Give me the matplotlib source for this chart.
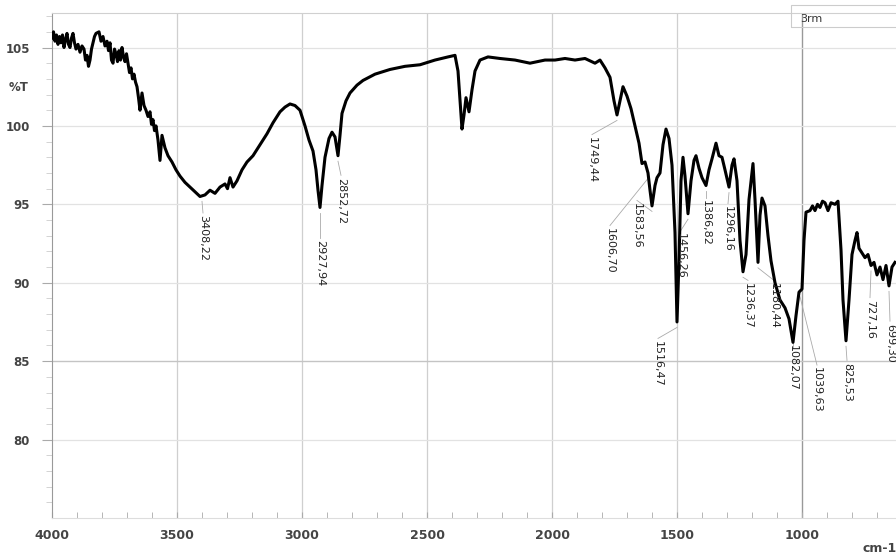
import numpy as np
import matplotlib
matplotlib.use('Agg')
import matplotlib.pyplot as plt
from matplotlib.patches import Rectangle

# spectrum (wavenumber cm-1, %T)
wavenumber = [4000, 3994, 3988, 3982, 3976, 3970, 3964, 3958, 3952, 3946,
              3940, 3934, 3928, 3922, 3916, 3910, 3904, 3896, 3888, 3880,
              3872, 3866, 3860, 3854, 3848, 3842, 3836, 3830, 3824, 3812,
              3804, 3796, 3788, 3780, 3774, 3768, 3762, 3756, 3750, 3744,
              3738, 3732, 3726, 3720, 3714, 3708, 3702, 3696, 3690, 3684,
              3678, 3672, 3666, 3660, 3654, 3648, 3640, 3632, 3624, 3616,
              3608, 3602, 3596, 3590, 3584, 3576, 3568, 3560, 3548, 3536,
              3520, 3504, 3488, 3468, 3448, 3428, 3408, 3388, 3368, 3348,
              3328, 3308, 3298, 3288, 3276, 3260, 3240, 3220, 3196, 3168,
              3140, 3116, 3088, 3068, 3048, 3028, 3008, 2988, 2972, 2956,
              2944, 2936, 2928, 2920, 2908, 2892, 2880, 2868, 2856, 2848,
              2840, 2824, 2808, 2780, 2756, 2708, 2648, 2588, 2528, 2468,
              2416, 2388, 2376, 2368, 2360, 2352, 2344, 2332, 2320, 2308,
              2288, 2256, 2208, 2148, 2088, 2028, 1988, 1948, 1908, 1868,
              1828, 1808, 1788, 1768, 1752, 1740, 1728, 1716, 1700, 1684,
              1668, 1652, 1640, 1628, 1616, 1608, 1600, 1588, 1580, 1568,
              1556, 1544, 1532, 1520, 1508, 1500, 1492, 1484, 1476, 1468,
              1456, 1444, 1432, 1424, 1412, 1400, 1384, 1372, 1360, 1344,
              1332, 1320, 1308, 1292, 1280, 1272, 1260, 1248, 1236, 1224,
              1212, 1196, 1188, 1176, 1168, 1160, 1148, 1136, 1124, 1108,
              1088, 1068, 1052, 1036, 1024, 1012, 1000, 992, 984, 968,
              958, 948, 938, 928, 918, 908, 896, 884, 868, 856,
              844, 836, 824, 812, 800, 788, 780, 772, 760, 748,
              736, 724, 712, 700, 688, 676, 664, 652, 640, 628]
transmittance = [105.6, 106.0, 105.4, 105.8, 105.2, 105.7, 105.3, 105.8, 105.0, 105.5,
                 105.9, 105.2, 105.0, 105.6, 105.9, 105.3, 104.9, 105.2, 104.7, 105.1,
                 104.9, 104.2, 104.5, 103.8, 104.2, 104.9, 105.3, 105.7, 105.9, 106.0,
                 105.4, 105.7, 105.1, 105.4, 104.8, 105.3, 104.2, 104.0, 104.9, 104.6,
                 104.1, 104.8, 104.2, 105.0, 104.4, 104.1, 104.6, 104.0, 103.4, 103.7,
                 103.0, 103.3, 102.8, 102.5, 101.8, 101.0, 102.1, 101.3, 101.0, 100.6,
                 100.9, 100.1, 100.4, 99.7, 100.0, 99.1, 97.8, 99.4, 98.6, 98.1,
                 97.7, 97.2, 96.8, 96.4, 96.1, 95.8, 95.5, 95.6, 95.9, 95.7,
                 96.1, 96.3, 96.0, 96.7, 96.1, 96.5, 97.2, 97.7, 98.1, 98.8,
                 99.5, 100.2, 100.9, 101.2, 101.4, 101.3, 101.0, 100.0, 99.1, 98.4,
                 97.2, 95.9, 94.8, 96.2, 98.0, 99.2, 99.6, 99.3, 98.1, 99.4,
                 100.8, 101.6, 102.1, 102.6, 102.9, 103.3, 103.6, 103.8, 103.9, 104.2,
                 104.4, 104.5, 103.5, 101.6, 99.8, 100.7, 101.8, 100.9, 102.3, 103.5,
                 104.2, 104.4, 104.3, 104.2, 104.0, 104.2, 104.2, 104.3, 104.2, 104.3,
                 104.0, 104.2, 103.7, 103.1, 101.6, 100.7, 101.6, 102.5, 101.9, 101.1,
                 100.0, 98.9, 97.6, 97.7, 97.0, 95.9, 94.9, 96.2, 96.7, 97.0,
                 98.8, 99.8, 99.2, 97.5, 93.2, 87.5, 91.4, 96.5, 98.0, 96.8,
                 94.4, 96.5, 97.8, 98.1, 97.3, 96.7, 96.2, 97.2, 97.9, 98.9,
                 98.1, 98.0, 97.2, 96.1, 97.5, 97.9, 96.5, 92.7, 90.7, 91.8,
                 95.3, 97.6, 95.3, 91.3, 94.3, 95.4, 94.9, 93.0, 91.4, 90.0,
                 88.9, 88.4, 87.7, 86.2, 87.9, 89.4, 89.6, 92.7, 94.5, 94.6,
                 94.9, 94.6, 95.0, 94.8, 95.2, 95.1, 94.6, 95.1, 95.0, 95.2,
                 92.1, 88.9, 86.3, 88.9, 91.8, 92.7, 93.2, 92.2, 91.9, 91.6,
                 91.8, 91.1, 91.3, 90.5, 91.0, 90.2, 91.1, 89.8, 91.0, 91.3]

# peak labels and the band each one points to
peak_labels = ['3408,22', '2927,94', '2852,72', '1749,44', '1606,70', '1583,56',
               '1516,47', '1456,26', '1386,82', '1296,16', '1236,37', '1180,44',
               '1082,07', '1039,63', '825,53', '727,16', '699,30']
peak_wn = [3400, 2928, 2856, 1740, 1616, 1600, 1500, 1456, 1384, 1292, 1236,
           1176, 1036, 1008, 824, 724, 652]
# where the rotated label text starts (top end)
label_pos = [(3396, 94.3), (2928, 92.7), (2844, 96.7), (1840, 99.3), (1768, 93.5),
             (1660, 95.1), (1576, 86.3), (1484, 93.2), (1384, 95.25), (1296, 94.9),
             (1216, 90.0), (1112, 90.0), (1036, 86.0), (940, 84.6), (820, 84.9),
             (728, 88.9), (648, 87.4)]

fig = plt.figure(figsize=(8.96, 5.53), dpi=100)
ax = fig.add_axes([52/896, 35/553, 844/896, 505/553])

ax.plot(wavenumber, transmittance, color='black', lw=2.2, zorder=3)

wn_sorted = np.array(wavenumber[::-1])
t_sorted = np.array(transmittance[::-1])
for txt, pw, (lx, ly) in zip(peak_labels, peak_wn, label_pos):
    py = np.interp(pw, wn_sorted, t_sorted) - 0.35
    ax.plot([pw, lx], [py, ly + 0.15], color='#aaaaaa', lw=0.6, zorder=2)
    ax.text(lx, ly, txt, rotation=270, ha='center', va='top', fontsize=8,
            family=['Liberation Sans Narrow', 'DejaVu Sans'], color='#222222', zorder=4)

ax.set_xlim(4000, 624)
ax.set_ylim(75, 107.2)

ax.set_xticks([4000, 3500, 3000, 2500, 2000, 1500, 1000])
ax.set_xticks(np.arange(700, 4000, 100), minor=True)
ax.set_yticks([80, 85, 90, 95, 100, 105])
ax.set_yticks(np.arange(76, 108, 1), minor=True)

ax.tick_params(axis='x', which='both', direction='in', length=4, color='#aaaaaa',
               labelsize=9, labelcolor='#444444', pad=8)
ax.tick_params(axis='y', which='major', direction='out', length=7, color='#aaaaaa',
               labelsize=8.5, labelcolor='#444444', pad=9)
ax.tick_params(axis='y', which='minor', direction='out', length=4, color='#cccccc')
for lab in ax.get_xticklabels() + ax.get_yticklabels():
    lab.set_fontweight('bold')

for v in [3500, 3000, 2500, 2000, 1500]:
    ax.axvline(v, color='#cfcfcf', lw=0.9, zorder=1)
ax.axvline(1000, color='#999999', lw=1.0, zorder=1)
for v in [80, 90, 95, 100, 105]:
    ax.axhline(v, color='#e2e2e2', lw=0.9, zorder=1)
ax.axhline(85, color='#c4c4c4', lw=1.0, zorder=1)

ax.spines['right'].set_visible(False)
ax.spines['bottom'].set_color('#dddddd')
ax.spines['top'].set_color('#d0d0d0')
ax.spines['left'].set_color('#999999')

ax.text(-0.028, 102.45, '%T', transform=ax.get_yaxis_transform(), ha='right',
        va='center', fontsize=8.5, fontweight='bold', color='#444444')
fig.text(862/896, 1 - 548/553, 'cm-1', ha='left', va='center', fontsize=9,
         fontweight='bold', color='#444444')

# small legend box at the top right
fig.patches.append(Rectangle((791/896, 1 - 27/553), 110/896, 22/553,
                             transform=fig.transFigure, fill=False,
                             edgecolor='#cccccc', lw=0.8))
fig.text(800/896, 1 - 19/553, '3rm', ha='left', va='center', fontsize=8,
         color='#333333')

fig.savefig('out.png', dpi=100)
